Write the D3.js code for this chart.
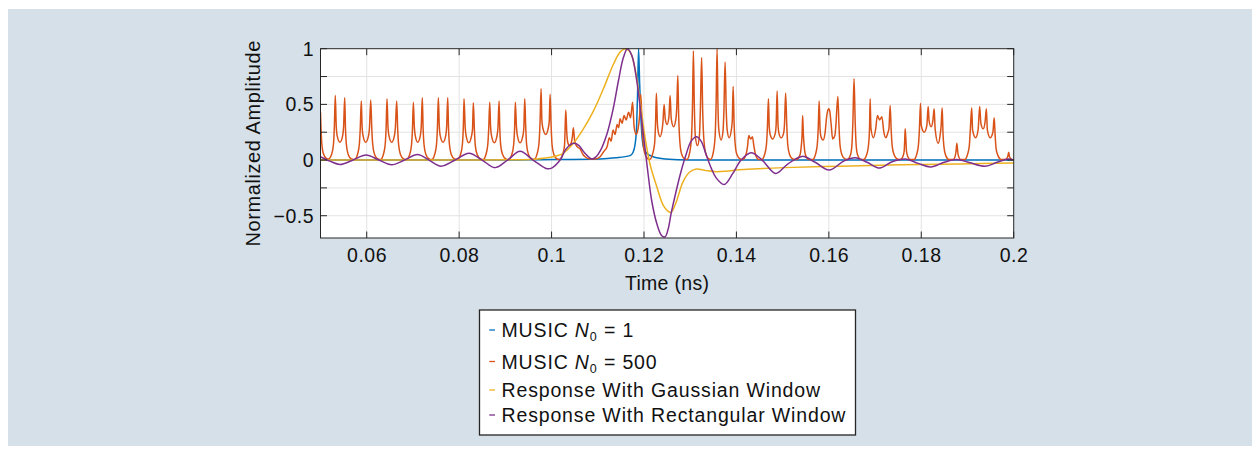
<!DOCTYPE html>
<html>
<head>
<meta charset="utf-8">
<script src="https://cdn.jsdelivr.net/npm/d3@7"></script>
<style>
  html, body { margin: 0; padding: 0; background: #ffffff; }
  svg { display: block; }
  text { font-family: "Liberation Sans", Arial, Helvetica, sans-serif; fill: #111111; }
</style>
</head>
<body>
<svg id="chart" width="1260" height="455"></svg>
<script>
// ---------------- DATA ----------------
const xDomain = [0.05, 0.2];
const yDomain = [-0.7, 1];
const xTicks = [0.06, 0.08, 0.1, 0.12, 0.14, 0.16, 0.18, 0.2];
const xTickLabels = ["0.06", "0.08", "0.1", "0.12", "0.14", "0.16", "0.18", "0.2"];
const yTicks = [-0.5, 0, 0.5, 1];
const yTickLabels = ["\u22120.5", "0", "0.5", "1"];
const yGridTicks = [-0.5, -0.25, 0, 0.25, 0.5, 0.75, 1];
const xLabel = "Time (ns)";
const yLabel = "Normalized Amplitude";
const legendNames = ["MUSIC", "MUSIC", "Response With Gaussian Window", "Response With Rectangular Window"];
const legendSubValues = ["1", "500", null, null];

// MUSIC N0 = 1 (blue)
const musicN1 = [
  [0.05,0],[0.09,0],[0.0975,0.003],[0.1105,0.01],[0.11375,0.02],[0.11699,0.04],[0.11764,0.07],
  [0.11807,0.14],[0.1184,0.3],[0.11861,0.6],[0.11883,1.0],[0.11905,0.7],[0.11931,0.4],
  [0.11959,0.2],[0.11991,0.11],[0.1206,0.06],[0.12197,0.03],[0.12457,0.01],[0.12998,0.0],[0.2,0]
];

// MUSIC N0 = 500 (orange)
const musicN500 = [
  [0.0500,0.43],[0.0502,0.2],[0.0504,0.1],[0.0508,0.04],[0.0515,0.01],
  [0.0517,0.01],[0.0524,0.05],[0.0528,0.14],[0.0530,0.3],[0.0532,0.58],[0.0534,0.31],[0.0536,0.22],[0.0542,0.16],[0.0548,0.22],[0.0550,0.3],[0.05524,0.56],[0.0554,0.29],[0.0556,0.14],[0.0560,0.05],[0.0567,0.01],
  [0.0574,0.005],[0.0580,0.05],[0.0584,0.14],[0.0586,0.28],[0.05883,0.53],[0.0590,0.3],[0.0592,0.22],[0.05978,0.16],[0.0604,0.22],[0.0606,0.29],[0.06087,0.54],[0.0611,0.28],[0.0613,0.14],[0.0617,0.05],[0.0624,0.01],
  [0.0630,0.005],[0.0636,0.05],[0.0640,0.14],[0.0642,0.29],[0.06439,0.55],[0.0646,0.3],[0.0648,0.22],[0.06541,0.16],[0.0660,0.22],[0.0662,0.29],[0.06649,0.53],[0.0667,0.28],[0.0669,0.14],[0.0673,0.05],[0.0680,0.01],
  [0.0686,0.005],[0.0693,0.05],[0.0697,0.14],[0.0699,0.28],[0.07009,0.52],[0.0703,0.3],[0.0705,0.22],[0.07104,0.16],[0.0716,0.22],[0.0718,0.3],[0.07203,0.56],[0.0722,0.29],[0.0724,0.14],[0.0728,0.05],[0.0735,0.01],
  [0.0741,0.005],[0.0747,0.05],[0.0751,0.14],[0.0753,0.29],[0.0755,0.56],[0.0757,0.31],[0.0759,0.22],[0.07652,0.16],[0.0771,0.22],[0.0773,0.3],[0.07753,0.56],[0.0777,0.29],[0.0779,0.14],[0.0783,0.05],[0.0790,0.01],
  [0.0796,0.005],[0.0803,0.05],[0.0807,0.14],[0.0809,0.29],[0.08106,0.55],[0.0813,0.3],[0.0815,0.22],[0.08208,0.155],[0.0827,0.22],[0.0829,0.28],[0.08307,0.515],[0.0833,0.27],[0.0835,0.13],[0.0839,0.05],[0.0846,0.01],
  [0.0852,0.005],[0.0858,0.05],[0.0862,0.14],[0.0864,0.28],[0.08662,0.52],[0.0868,0.3],[0.0870,0.22],[0.08762,0.155],[0.0882,0.22],[0.0884,0.29],[0.08864,0.53],[0.0888,0.28],[0.0890,0.13],[0.0894,0.05],[0.0901,0.01],
  [0.0907,0.005],[0.0914,0.05],[0.0918,0.14],[0.0920,0.28],[0.09216,0.52],[0.0924,0.3],[0.0926,0.22],[0.09318,0.155],[0.0938,0.22],[0.0940,0.29],[0.0942,0.55],[0.0944,0.3],[0.0946,0.14],[0.0950,0.05],[0.0957,0.01],
  [0.0962,0.005],[0.0969,0.06],[0.0973,0.16],[0.0975,0.33],[0.09773,0.64],[0.0979,0.36],[0.0981,0.29],[0.09874,0.23],[0.0993,0.29],[0.0995,0.35],[0.09968,0.59],[0.0999,0.31],[0.1001,0.14],[0.1005,0.05],[0.1012,0.01],
  [0.1018,0.005],[0.1024,0.05],[0.1028,0.13],[0.1029,0.24],[0.10307,0.45],[0.1033,0.24],[0.1035,0.16],[0.10385,0.13],[0.1043,0.16],[0.1045,0.21],[0.10472,0.29],[0.1050,0.17],[0.10552,0.12],[0.10617,0.1],[0.1068,0.05],[0.10725,0.03],[0.10833,0.01],[0.1095,0.01],
  [0.1105,0.03],[0.11136,0.08],[0.11201,0.12],[0.11251,0.2],[0.11288,0.17],[0.11331,0.27],[0.11375,0.23],[0.11418,0.32],[0.1145,0.29],[0.11483,0.37],[0.11526,0.33],[0.11569,0.4],[0.11613,0.36],[0.11667,0.43],[0.1171,0.38],[0.11753,0.52],[0.11786,0.3],[0.11829,0.23],[0.11872,0.28],[0.11905,0.4],[0.11931,0.59],[0.11959,0.3],[0.11991,0.12],[0.12035,0.04],[0.12089,0.01],
  [0.1212,0.005],[0.1219,0.06],[0.1223,0.15],[0.1225,0.33],[0.12268,0.6],[0.1229,0.33],[0.1231,0.25],[0.12348,0.21],[0.1239,0.27],[0.1241,0.34],[0.12435,0.5],[0.1246,0.37],[0.125,0.32],[0.1254,0.39],[0.12565,0.58],[0.1259,0.37],[0.12641,0.3],[0.1269,0.37],[0.1271,0.48],[0.12732,0.76],[0.1275,0.4],[0.1277,0.2],[0.1281,0.06],[0.1288,0.01],
  [0.1293,0.005],[0.1299,0.07],[0.1303,0.22],[0.1305,0.5],[0.13069,0.98],[0.1309,0.47],[0.1311,0.22],[0.13156,0.13],[0.1320,0.22],[0.1322,0.45],[0.13247,0.92],[0.1327,0.44],[0.1329,0.22],[0.1333,0.07],[0.1340,0.01],
  [0.1344,0.005],[0.1350,0.07],[0.1354,0.22],[0.1356,0.5],[0.13582,1.0],[0.1360,0.5],[0.1362,0.27],[0.13669,0.18],[0.1371,0.26],[0.1373,0.45],[0.13755,0.88],[0.1378,0.44],[0.1380,0.27],[0.13842,0.2],[0.1389,0.27],[0.1391,0.35],[0.13929,0.66],[0.1395,0.33],[0.1397,0.16],[0.1401,0.05],[0.1408,0.01],
  [0.1414,0.005],[0.1420,0.04],[0.1424,0.12],[0.14268,0.22],[0.14307,0.19],[0.14346,0.21],[0.1438,0.12],[0.1442,0.04],[0.1448,0.005],
  [0.1455,0.005],[0.1461,0.05],[0.1465,0.14],[0.1467,0.29],[0.14693,0.55],[0.1471,0.3],[0.1473,0.23],[0.14784,0.19],[0.1484,0.24],[0.1486,0.32],[0.14881,0.62],[0.1490,0.32],[0.1492,0.24],[0.14968,0.2],[0.1502,0.24],[0.1504,0.32],[0.15065,0.6],[0.1509,0.31],[0.1511,0.14],[0.1515,0.05],[0.1522,0.01],
  [0.1530,0.005],[0.1537,0.04],[0.1540,0.11],[0.1542,0.22],[0.15433,0.4],[0.1545,0.22],[0.1547,0.11],[0.1550,0.04],[0.1557,0.005],
  [0.1565,0.005],[0.1571,0.05],[0.1575,0.14],[0.1577,0.28],[0.1579,0.53],[0.1581,0.28],[0.1583,0.21],[0.15877,0.18],[0.1592,0.25],[0.1595,0.38],[0.1598,0.45],[0.16,0.46],[0.1602,0.44],[0.1605,0.32],[0.16082,0.19],[0.1613,0.22],[0.1615,0.3],[0.16195,0.57],[0.1622,0.3],[0.1624,0.14],[0.1628,0.05],[0.1635,0.01],
  [0.1640,0.005],[0.1647,0.05],[0.1650,0.14],[0.1652,0.34],[0.16545,0.73],[0.1657,0.34],[0.1659,0.14],[0.1662,0.05],[0.1669,0.005],
  [0.1675,0.005],[0.1682,0.05],[0.1686,0.14],[0.1688,0.28],[0.16894,0.55],[0.1691,0.29],[0.16965,0.2],[0.1701,0.27],[0.17052,0.4],[0.171,0.36],[0.17147,0.39],[0.1719,0.25],[0.17234,0.2],[0.1728,0.25],[0.1730,0.28],[0.17327,0.49],[0.1735,0.26],[0.1737,0.13],[0.1741,0.05],[0.1748,0.01],
  [0.1755,0.005],[0.1760,0.03],[0.1763,0.08],[0.1764,0.16],[0.17652,0.28],[0.1767,0.16],[0.1768,0.08],[0.1771,0.03],[0.1776,0.005],
  [0.1784,0.005],[0.1790,0.05],[0.1794,0.14],[0.1796,0.28],[0.17983,0.51],[0.1800,0.31],[0.18063,0.25],[0.1812,0.31],[0.18149,0.48],[0.1817,0.35],[0.18214,0.3],[0.1825,0.35],[0.18279,0.46],[0.1830,0.28],[0.18366,0.15],[0.1841,0.23],[0.1843,0.31],[0.18452,0.47],[0.1847,0.24],[0.1849,0.12],[0.1853,0.04],[0.1860,0.005],
  [0.1869,0.005],[0.1873,0.03],[0.1875,0.07],[0.1877,0.15],[0.1879,0.07],[0.1881,0.03],[0.1885,0.005],
  [0.1894,0.005],[0.1900,0.05],[0.1904,0.13],[0.1906,0.26],[0.19091,0.47],[0.1911,0.27],[0.19177,0.2],[0.1923,0.27],[0.19264,0.48],[0.1929,0.33],[0.1934,0.28],[0.1938,0.34],[0.19409,0.46],[0.1943,0.27],[0.19491,0.2],[0.1955,0.25],[0.19578,0.38],[0.1960,0.21],[0.1962,0.1],[0.1966,0.04],[0.1973,0.005],
  [0.1982,0.005],[0.1987,0.03],[0.19892,0.07],[0.1991,0.03],[0.1996,0.005],[0.2,0.0]
];

// Response with Gaussian window (yellow)
const gaussResp = [
  [0.05,0],[0.0802,0],[0.09318,0.003],[0.09643,0.008],[0.10011,0.027],[0.10249,0.06],[0.10472,0.15],
  [0.10688,0.28],[0.10905,0.44],[0.11121,0.64],[0.11338,0.86],[0.11483,0.97],[0.11591,1.0],[0.11699,0.97],
  [0.11807,0.82],[0.11916,0.52],[0.12024,0.2],[0.12132,-0.04],[0.12277,-0.24],[0.1242,-0.41],[0.12522,-0.46],
  [0.12587,-0.47],[0.12695,-0.38],[0.1284,-0.2],[0.12983,-0.11],[0.13128,-0.08],[0.13344,-0.095],[0.13561,-0.105],
  [0.13777,-0.1],[0.13994,-0.09],[0.14355,-0.08],[0.15033,-0.068],[0.16245,-0.055],[0.17543,-0.043],[0.18842,-0.035],[0.2,-0.027]
];

// Response with rectangular window (purple)
const rectResp = [
  [0.05,0.03],[0.05206,-0.01],[0.05422,-0.04],[0.05703,0.0],[0.05985,0.045],[0.06266,0.0],[0.06537,-0.042],
  [0.06818,0.0],[0.071,0.05],[0.07348,0.0],[0.07608,-0.055],[0.07911,0.0],[0.08214,0.062],[0.08496,0.0],
  [0.08777,-0.068],[0.09048,0.0],[0.09318,0.078],[0.096,0.0],[0.09903,-0.078],[0.10011,-0.07],[0.10184,0.0],
  [0.10314,0.1],[0.10476,0.15],[0.10595,0.13],[0.10703,0.07],[0.1087,0.01],[0.10963,0.03],[0.1105,0.08],
  [0.11195,0.23],[0.11338,0.47],[0.11446,0.71],[0.11554,0.92],[0.11641,1.0],[0.11736,0.94],[0.11844,0.71],
  [0.11952,0.35],[0.12061,-0.03],[0.12169,-0.37],[0.12277,-0.57],[0.12385,-0.68],[0.12457,-0.69],[0.12522,-0.62],
  [0.12587,-0.48],[0.12695,-0.28],[0.12803,-0.1],[0.12911,0.05],[0.1302,0.17],[0.13139,0.21],[0.13236,0.17],
  [0.13344,0.05],[0.13452,-0.07],[0.13561,-0.16],[0.13734,-0.22],[0.13922,-0.12],[0.14102,0.0],[0.14318,0.065],
  [0.14556,0.0],[0.14849,-0.12],[0.15097,-0.04],[0.15422,0.033],[0.15704,-0.02],[0.16007,-0.09],[0.1632,-0.01],
  [0.16569,0.02],[0.16829,-0.02],[0.171,-0.072],[0.1737,-0.015],[0.17652,0.01],[0.17933,-0.03],[0.18204,-0.062],
  [0.18496,-0.02],[0.18766,0.005],[0.19058,-0.025],[0.19383,-0.055],[0.19643,-0.02],[0.19881,0.01],[0.2,0.0]
];

const seriesList = [musicN1, musicN500, gaussResp, rectResp];
const seriesColors = ["#0072BD", "#D95319", "#EDB120", "#7E2F8E"];

// ---------------- DRAW ----------------
const svg = d3.select("#chart");
const W = 1260, H = 455;

svg.append("rect").attr("x", 0).attr("y", 0).attr("width", W).attr("height", H).attr("fill", "#ffffff");
svg.append("rect").attr("x", 8).attr("y", 9).attr("width", 1244).attr("height", 437).attr("fill", "#d6e0e8");

const plot = { left: 320.5, right: 1013.7, top: 48.7, bottom: 238 };
const x = d3.scaleLinear().domain(xDomain).range([plot.left, plot.right]);
const y = d3.scaleLinear().domain(yDomain).range([plot.bottom, plot.top]);

svg.append("rect")
  .attr("x", plot.left).attr("y", plot.top)
  .attr("width", plot.right - plot.left).attr("height", plot.bottom - plot.top)
  .attr("fill", "#ffffff");

// grid
const grid = svg.append("g").attr("stroke", "#e3e3e3").attr("stroke-width", 1);
grid.selectAll("line.gx").data(xTicks.filter(t => t < xDomain[1])).enter().append("line")
  .attr("x1", d => x(d)).attr("x2", d => x(d)).attr("y1", plot.top).attr("y2", plot.bottom);
grid.selectAll("line.gy").data(yGridTicks.filter(t => t < yDomain[1])).enter().append("line")
  .attr("y1", d => y(d)).attr("y2", d => y(d)).attr("x1", plot.left).attr("x2", plot.right);

// clip
svg.append("defs").append("clipPath").attr("id", "clip")
  .append("rect").attr("x", plot.left).attr("y", plot.top - 1)
  .attr("width", plot.right - plot.left).attr("height", plot.bottom - plot.top + 1);

const lineGen = d3.line().x(d => x(d[0])).y(d => y(d[1])).curve(d3.curveMonotoneX);
const lineSmooth = d3.line().x(d => x(d[0])).y(d => y(d[1])).curve(d3.curveCatmullRom.alpha(0.5));

const lines = svg.append("g").attr("clip-path", "url(#clip)");
seriesList.forEach((s, i) => {
  lines.append("path")
    .datum(s)
    .attr("d", (i === 2 || i === 3) ? lineSmooth : lineGen)
    .attr("fill", "none")
    .attr("stroke", seriesColors[i])
    .attr("stroke-width", 1.5)
    .attr("stroke-linejoin", "round");
});

// axes box and ticks
const axisColor = "#262626";
const tickLen = 6.5;
const axes = svg.append("g").attr("stroke", axisColor).attr("stroke-width", 1);
axes.append("rect")
  .attr("x", plot.left).attr("y", plot.top)
  .attr("width", plot.right - plot.left).attr("height", plot.bottom - plot.top)
  .attr("fill", "none");
xTicks.forEach(t => {
  axes.append("line").attr("x1", x(t)).attr("x2", x(t)).attr("y1", plot.bottom).attr("y2", plot.bottom - tickLen);
  axes.append("line").attr("x1", x(t)).attr("x2", x(t)).attr("y1", plot.top).attr("y2", plot.top + tickLen);
});
yGridTicks.forEach(t => {
  axes.append("line").attr("y1", y(t)).attr("y2", y(t)).attr("x1", plot.left).attr("x2", plot.left + tickLen);
  axes.append("line").attr("y1", y(t)).attr("y2", y(t)).attr("x1", plot.right).attr("x2", plot.right - tickLen);
});

// tick labels
const tickFont = 19.5;
svg.append("g").selectAll("text").data(xTicks).enter().append("text")
  .attr("x", d => x(d) + 0.3).attr("y", 262)
  .attr("text-anchor", "middle")
  .attr("font-size", tickFont).attr("letter-spacing", "0.5px")
  .text((d, i) => xTickLabels[i]);
svg.append("g").selectAll("text").data(yTicks).enter().append("text")
  .attr("x", 314).attr("y", d => y(d)).attr("dy", "0.36em")
  .attr("text-anchor", "end")
  .attr("font-size", tickFont).attr("letter-spacing", "0.5px")
  .text((d, i) => yTickLabels[i]);

// axis labels
svg.append("text")
  .attr("x", (plot.left + plot.right) / 2).attr("y", 290)
  .attr("text-anchor", "middle").attr("font-size", 19.5).attr("letter-spacing", "0.3px")
  .text(xLabel);
svg.append("text")
  .attr("transform", `translate(259.5,${(plot.top + plot.bottom) / 2}) rotate(-90)`)
  .attr("text-anchor", "middle").attr("font-size", 20).attr("letter-spacing", "0.6px")
  .text(yLabel);

// legend
const legend = svg.append("g");
legend.append("rect")
  .attr("x", 479.5).attr("y", 310).attr("width", 376).attr("height", 125)
  .attr("fill", "#ffffff").attr("stroke", "#262626").attr("stroke-width", 1.3);
const rowBase = [337, 368.5, 397, 422];
legendNames.forEach((name, i) => {
  const by = rowBase[i];
  legend.append("line")
    .attr("x1", 489.3).attr("x2", 495).attr("y1", by - 7).attr("y2", by - 7)
    .attr("stroke", seriesColors[i]).attr("stroke-width", 1.3);
  const t = legend.append("text")
    .attr("x", 501.5).attr("y", by)
    .attr("font-size", 19.5).attr("letter-spacing", "0.85px");
  if (legendSubValues[i] !== null) {
    t.append("tspan").text(name + " ");
    t.append("tspan").attr("font-style", "italic").text("N");
    t.append("tspan").attr("font-size", 12.5).attr("dy", 4).text("0");
    t.append("tspan").attr("dy", -4).text(" = " + legendSubValues[i]);
  } else {
    t.text(name);
  }
});
</script>
</body>
</html>
